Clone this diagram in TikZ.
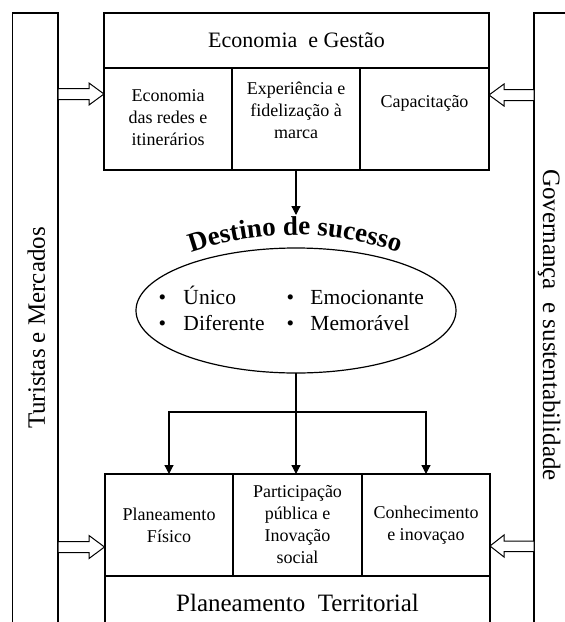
\documentclass[tikz,border=0pt]{standalone}
\usepackage{fontspec}
\setmainfont{Liberation Serif}
\usetikzlibrary{arrows.meta,shapes.geometric,decorations.text}
\begin{document}
\begin{tikzpicture}[x=1pt,y=-1pt,
  every node/.style={inner sep=0pt, outer sep=0pt},
  boxst/.style={draw, line width=1.2pt, rectangle},
  txt18/.style={font=\fontsize{18}{22}\selectfont, align=center},
  btxt/.style={font=\fontsize{21.5}{26}\selectfont},
  bigtxt/.style={font=\fontsize{25}{25}\selectfont},
  arr/.style={line width=1.2pt, -{Triangle[length=9pt,width=9pt]}},
  blk/.style={draw, line width=1pt, fill=white, line join=miter}]
\useasboundingbox (0,0) rectangle (565,622);
\clip (0,0) rectangle (565,622);
% side bars
\node[boxst, minimum width=45.3pt, minimum height=630pt] (lbar) at (35.35,328) {};
\node[boxst, minimum width=60pt, minimum height=630pt] (rbar) at (564,328) {};
\node[bigtxt, rotate=90, anchor=base] (ltxt) at (45,328) {Turistas e Mercados};
\node[bigtxt, rotate=-90, anchor=base] (rtxt) at (543,325) {Governança\ \ e sustentabilidade};
% top box
\node[boxst, minimum width=385pt, minimum height=55pt, font=\fontsize{22}{22}\selectfont] (head) at (296.5,40.5) {Economia\ \ e Gestão};
\node[boxst, minimum width=128pt, minimum height=102pt] (t1) at (168,119) {};
\node[boxst, minimum width=128pt, minimum height=102pt] (t2) at (296,119) {};
\node[boxst, minimum width=129pt, minimum height=102pt] (t3) at (424.5,119) {};
\node[txt18] (t1txt) at (168,118) {Economia\\das redes e\\itinerários};
\node[txt18] (t2txt) at (296,110) {Experiência e\\fidelização à\\marca};
\node[txt18] (t3txt) at (424.5,103) {Capacitação};
% ellipse
\node[draw, ellipse, line width=1.2pt, minimum width=320pt, minimum height=125pt] (ell) at (296,310.5) {};
\path[decorate, decoration={text along path, text={|\fontsize{27}{27}\selectfont\bfseries|Destino de sucesso}, text align=center}]
  (295,550) ++(-120:315) arc[start angle=-120, end angle=-60, radius=315];
\node[btxt, anchor=base west] (i1) at (158.5,304) {\makebox[25pt][l]{•}Único};
\node[btxt, anchor=base west] (i2) at (158.5,330) {\makebox[25pt][l]{•}Diferente};
\node[btxt, anchor=base west] (i3) at (286.5,304) {\makebox[24pt][l]{•}Emocionante};
\node[btxt, anchor=base west] (i4) at (286.5,330) {\makebox[24pt][l]{•}Memorável};
% bottom box
\node[boxst, txt18, minimum width=128pt, minimum height=102pt] (b1) at (169,525) {Planeamento\\Físico};
\node[boxst, txt18, minimum width=129pt, minimum height=102pt] (b2) at (297.5,525) {Participação\\pública e\\Inovação\\social};
\node[boxst, txt18, minimum width=128pt, minimum height=102pt] (b3) at (426,525) {Conhecimento\\e inovaçao};
\node[boxst, minimum width=385pt, minimum height=70pt] (bfoot) at (297.5,611) {};
\node[bigtxt] (bfoottxt) at (297.5,603) {Planeamento\ \ Territorial};
% connectors
\coordinate (tip1) at (296,215);
\draw[arr] (t2.south) -- (tip1);
\coordinate (br) at (296,412);
\draw[arr] (ell.south) -- (ell.south |- b2.north);
\draw[arr] (br) -| (b1.north);
\draw[arr] (br) -| (b3.north);
% block arrows
\draw[blk] (58,88.5) -- (89,88.5) -- (89,83) -- (104,94) -- (89,105) -- (89,99.5) -- (58,99.5) -- cycle;
\draw[blk] (534,89.5) -- (504,89.5) -- (504,84) -- (489,95) -- (504,106) -- (504,100.5) -- (534,100.5) -- cycle;
\draw[blk] (58,541.5) -- (89,541.5) -- (89,535.5) -- (104.5,547) -- (89,558.5) -- (89,552.5) -- (58,552.5) -- cycle;
\draw[blk] (534,541) -- (504,541) -- (504,535) -- (490,546) -- (504,557) -- (504,551.5) -- (534,551.5) -- cycle;
\end{tikzpicture}
\end{document}
